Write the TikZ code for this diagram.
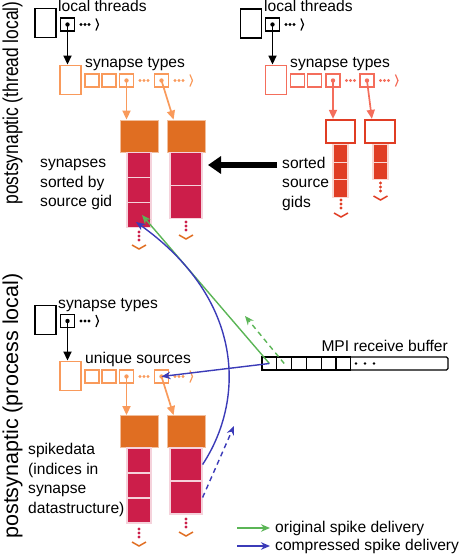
\documentclass[tikz,border=0pt]{standalone}
\usepackage{fontspec}
\setmainfont{Liberation Sans}
\usepackage{graphicx}
\usepackage{tikz}
\usetikzlibrary{arrows.meta,positioning}
\definecolor{lightorange}{HTML}{F99A5B}
\definecolor{darkorange}{HTML}{E06E22}
\definecolor{crimson}{HTML}{CC1E4A}
\definecolor{salmon}{HTML}{F46E5C}
\definecolor{redorange}{HTML}{E03D24}
\definecolor{spikegreen}{HTML}{5BB556}
\definecolor{spikeblue}{HTML}{3B3BB8}
\tikzset{
        txt/.style = {font=\fontsize{15.6}{19.5}\selectfont, inner sep=0pt, align=left},
        side/.style = {font=\fontsize{21.5}{25}\selectfont, inner sep=0pt, rotate=90},
        vec/.style = {rectangle, draw, line width=1.9pt, inner sep=0pt,
            minimum width=21pt, minimum height=29pt},
        cel/.style = {rectangle, draw, line width=1.9pt, inner sep=0pt,
            minimum width=14pt, minimum height=13pt},
        hd/.style = {rectangle, fill=darkorange, draw=darkorange!45!white, line width=0.8pt,
            inner sep=0pt, minimum width=38pt, minimum height=32pt},
        syn/.style = {rectangle, fill=crimson, draw=crimson!20!white, line width=1.2pt, inner sep=0pt},
        gid/.style = {rectangle, fill=redorange, draw=redorange!20!white, line width=1.2pt,
            inner sep=0pt, minimum width=15pt, minimum height=17.5pt},
        box/.style = {rectangle, draw=redorange, line width=2.2pt, inner sep=0pt, minimum height=23pt},
        bcell/.style = {rectangle, draw, line width=1.1pt, inner sep=0pt,
            minimum width=14.8pt, minimum height=13pt},
        ptr/.style = {-{Triangle[length=9pt,width=8pt]}, line width=1.7pt},
        fat/.style = {-{Triangle[length=13pt,width=17pt]}, line width=6.5pt},
        spike/.style = {-{Stealth[length=9pt,width=7.5pt]}, line width=1.4pt},
        later/.style = {dash pattern=on 5pt off 4pt},
        dots/.pic = {\foreach \dx in {5.5,9.5,13.5} \fill (\dx,0) circle (1.6);},
        more/.pic = {\foreach \dx in {5.5,9.5,13.5} \fill (\dx,0) circle (1.6);
            \draw[line width=1.2pt] (20.5,-6) -- (23,0) -- (20.5,6);},
        tail/.pic = {\foreach \dy in {0,4,8} \fill (0,\dy) circle (1.6);
            \draw[#1, line width=1.5pt] (-7,13) -- (0,17) -- (7,13);}
}
\begin{document}
\begin{tikzpicture}[x=1pt, y=-1pt]
\useasboundingbox (0,0) rectangle (463,554);

\node[side] (lab1) at (12.5,103) {\scalebox{0.81}[1]{postsynaptic (thread local)}};
\node[side] (lab2) at (12.5,406) {postsynaptic (process local)};

% THREAD LOCAL, LEFT
\node[vec] (tl-v1) at (45.5,23) {};
\node[cel] (tl-c) at (67.5,24.5) {};
\node[txt, anchor=base west] (tl-t1) at (58,11.5) {local threads};
\node[vec, lightorange] (tl-v2) at (70.5,80) {};
\foreach \n/\x in {1/92,2/109,3/126.5,4/161.5}
    \node[cel, lightorange] (tl-s\n) at (\x,80.5) {};
\node[txt, anchor=base west] (tl-t2) at (85,67) {synapse types};
\node[hd] (tl-h1) at (139,136) {};
\node[hd] (tl-h2) at (186,136) {};
\foreach \i in {1,2,3}
    \node[syn, minimum width=24pt, minimum height=25pt] (tl-a\i) at (139,140+25*\i) {};
\foreach \i in {1,2}
    \node[syn, minimum width=32pt, minimum height=33pt] (tl-b\i) at (186,136+33*\i) {};
\draw[ptr] (tl-c.center) -- (tl-c.center |- tl-v2.north);
\draw[ptr, lightorange] (tl-s3.center) -- (tl-s3.center |- tl-h1.north);
\draw[ptr, lightorange] (tl-s4.center) -- ([xshift=7pt]tl-h2.north west);
\fill (tl-c.center) circle (2.2);
\foreach \n in {3,4} \fill[lightorange] (tl-s\n.center) circle (2.2);
\pic at (tl-c.east) {more};
\pic[lightorange] at (tl-s3.east) {dots};
\pic[lightorange] at (tl-s4.east) {more};
\pic[crimson] at (139,232) {tail=darkorange};
\pic[crimson] at (186,222) {tail=darkorange};
\node[txt, anchor=base west] (tl-t3) at (40,206.5) {synapses\\sorted by\\source gid};

% THREAD LOCAL, RIGHT
\node[vec] (tr-v1) at (251,23.5) {};
\node[cel] (tr-c) at (272.5,24.5) {};
\node[txt, anchor=base west] (tr-t1) at (264,11.5) {local threads};
\node[vec, salmon] (tr-v2) at (276,80) {};
\foreach \n/\x in {1/297.5,2/314.5,3/333,4/367}
    \node[cel, salmon] (tr-s\n) at (\x,80.5) {};
\node[txt, anchor=base west] (tr-t2) at (290,67) {synapse types};
\node[box, minimum width=29pt] (tr-h1) at (340.5,131.5) {};
\node[box, minimum width=30pt] (tr-h2) at (380,131.5) {};
\foreach \i in {1,2,3} \node[gid] (tr-a\i) at (340.5,136+17.5*\i) {};
\foreach \i in {1,2} \node[gid] (tr-b\i) at (380.5,136+17.5*\i) {};
\draw[ptr] (tr-c.center) -- (tr-c.center |- tr-v2.north);
\draw[ptr, salmon] (tr-s3.center) -- (tr-s3.center |- tr-h1.north);
\draw[ptr, salmon] (tr-s4.center) -- ([xshift=8pt]tr-h2.north west);
\fill (tr-c.center) circle (2.2);
\foreach \n in {3,4} \fill[salmon] (tr-s\n.center) circle (2.2);
\pic at (tr-c.east) {more};
\pic[salmon] at (tr-s3.east) {dots};
\pic[salmon] at (tr-s4.east) {more};
\pic[redorange] at (341,200) {tail=redorange};
\pic[redorange] at (380.5,183) {tail=redorange};
\node[txt, anchor=base west] (tr-t3) at (282,207) {sorted\\source\\gids};
\coordinate (fat-s) at (277,165);
\coordinate (fat-e) at (208,165);
\draw[fat] (fat-s) -- (fat-e);

% PROCESS LOCAL
\node[vec] (bl-v1) at (45.5,320) {};
\node[cel] (bl-c) at (67.5,321) {};
\node[txt, anchor=base west] (bl-t1) at (58,308) {synapse types};
\node[vec, lightorange] (bl-v2) at (70.5,376) {};
\foreach \n/\x in {1/92,2/109,3/126.5,4/161.5}
    \node[cel, lightorange] (bl-s\n) at (\x,376.5) {};
\node[txt, anchor=base west] (bl-t2) at (85,363) {unique sources};
\node[hd] (bl-h1) at (139,431.5) {};
\node[hd] (bl-h2) at (186,431.5) {};
\foreach \i in {1,2,3}
    \node[syn, minimum width=24pt, minimum height=25pt] (bl-a\i) at (139,435.5+25*\i) {};
\foreach \i in {1,2}
    \node[syn, minimum width=32pt, minimum height=33pt] (bl-b\i) at (186,431.5+33*\i) {};
\draw[ptr] (bl-c.center) -- (bl-c.center |- bl-v2.north);
\draw[ptr, lightorange] (bl-s3.center) -- (bl-s3.center |- bl-h1.north);
\draw[ptr, lightorange] (bl-s4.center) -- ([xshift=7pt]bl-h2.north west);
\fill (bl-c.center) circle (2.2);
\foreach \n in {3,4} \fill[lightorange] (bl-s\n.center) circle (2.2);
\pic at (bl-c.east) {more};
\pic[lightorange] at (bl-s3.east) {dots};
\pic[lightorange] at (bl-s4.east) {more};
\pic[crimson] at (139,529) {tail=darkorange};
\pic[crimson] at (186,519) {tail=darkorange};
\node[txt, anchor=base west] (bl-t3) at (28,513) {spikedata\\(indices in\\synapse\\datastructure)};

% MPI BUFFER
\node[bcell, minimum width=186pt, rounded corners=1.5pt] (buf) at (355,363.5) {};
\foreach \i in {1,...,6} \node[bcell] (b\i) at (254.6+14.8*\i,363.5) {};
\foreach \x in {356,365,374} \fill (\x,363.5) circle (1.4);
\node[txt, anchor=base east] (buf-t) at (448,351) {MPI receive buffer};

% spike delivery
\coordinate (g-end) at (142,215);
\coordinate (gd-end) at (245,316);
\coordinate (b-end) at (136,222);
\coordinate (bd-end) at (234,426);
\draw[spike, spikegreen] (b1.center) -- (g-end);
\draw[spike, spikegreen, later] (b2.center) -- (gd-end);
\draw[spike, spikeblue] (b1.center) -- (bl-s4.center);
\draw[spike, spikeblue] (bl-b1.east) .. controls (245,400) and (245,300) .. (b-end);
\draw[spike, spikeblue, later] (bl-b2.east) -- (bd-end);

% legend
\coordinate (lg1) at (237,528);
\coordinate (lg2) at (270,528);
\coordinate (lg3) at (237,546);
\coordinate (lg4) at (270,546);
\draw[spike, spikegreen] (lg1) -- (lg2);
\draw[spike, spikeblue] (lg3) -- (lg4);
\node[txt, right=5pt of lg2] (lg-t1) {original spike delivery};
\node[txt, right=5pt of lg4] (lg-t2) {compressed spike delivery};
\end{tikzpicture}
\end{document}
